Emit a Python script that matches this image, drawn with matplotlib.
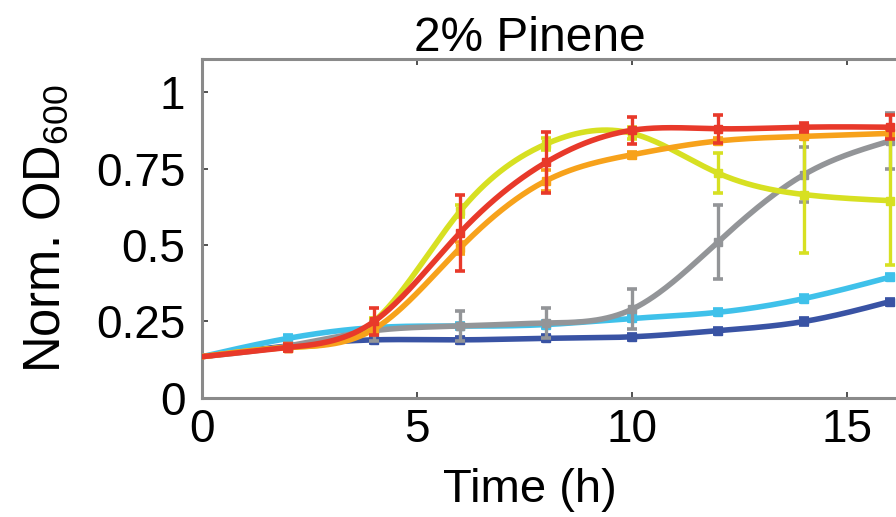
import numpy as np
import matplotlib
matplotlib.use("Agg")
import matplotlib.pyplot as plt

plt.rcParams['font.family'] = ['Liberation Sans', 'DejaVu Sans']
plt.rcParams['mathtext.fontset'] = 'custom'
plt.rcParams['mathtext.rm'] = 'Liberation Sans'

# Sampling times (h)
time_h = [0, 2, 4, 6, 8, 10, 12, 14, 16]

# Normalised OD600 per strain, with error half-widths
od_blue   = [0.135, 0.17, 0.19, 0.19, 0.195, 0.20, 0.22, 0.25, 0.315]
err_blue  = [0.0, 0.01, 0.01, 0.01, 0.01, 0.01, 0.01, 0.01, 0.01]
od_cyan   = [0.135, 0.195, 0.23, 0.235, 0.24, 0.26, 0.28, 0.325, 0.395]
err_cyan  = [0.0, 0.01, 0.01, 0.01, 0.01, 0.01, 0.01, 0.01, 0.01]
od_gray   = [0.135, 0.17, 0.22, 0.235, 0.245, 0.29, 0.51, 0.73, 0.84]
err_gray  = [0.0, 0.01, 0.035, 0.05, 0.05, 0.065, 0.12, 0.09, 0.09]
od_yellow = [0.135, 0.165, 0.25, 0.61, 0.83, 0.865, 0.735, 0.665, 0.645]
err_yellow = [0.0, 0.01, 0.01, 0.02, 0.02, 0.02, 0.065, 0.19, 0.21]
od_orange = [0.135, 0.165, 0.225, 0.49, 0.71, 0.795, 0.84, 0.855, 0.865]
err_orange = [0.0, 0.01, 0.01, 0.02, 0.035, 0.01, 0.01, 0.01, 0.01]
od_red    = [0.135, 0.165, 0.25, 0.54, 0.77, 0.875, 0.88, 0.885, 0.885]
err_red   = [0.0, 0.01, 0.045, 0.125, 0.10, 0.045, 0.045, 0.015, 0.04]

series = [
    (od_blue, err_blue, '#3953a4'),
    (od_cyan, err_cyan, '#3fc1ea'),
    (od_gray, err_gray, '#939598'),
    (od_yellow, err_yellow, '#d7e022'),
    (od_orange, err_orange, '#f7a21b'),
    (od_red, err_red, '#e8392a'),
]

x_ticks = [0, 5, 10, 15]
y_ticks = [0, 0.25, 0.5, 0.75, 1]
y_tick_labels = ['0', '0.25', '0.5', '0.75', '1']


def natural_spline(x, y, xs):
    x = np.asarray(x, float)
    y = np.asarray(y, float)
    n = len(x)
    h = np.diff(x)
    A = np.zeros((n, n))
    b = np.zeros(n)
    A[0, 0] = 1
    A[-1, -1] = 1
    for i in range(1, n - 1):
        A[i, i - 1] = h[i - 1]
        A[i, i] = 2 * (h[i - 1] + h[i])
        A[i, i + 1] = h[i]
        b[i] = 3 * ((y[i + 1] - y[i]) / h[i] - (y[i] - y[i - 1]) / h[i - 1])
    c = np.linalg.solve(A, b)
    bc = (y[1:] - y[:-1]) / h - h * (2 * c[:-1] + c[1:]) / 3
    d = (c[1:] - c[:-1]) / (3 * h)
    idx = np.clip(np.searchsorted(x, xs) - 1, 0, n - 2)
    dx = xs - x[idx]
    return y[idx] + bc[idx] * dx + c[idx] * dx ** 2 + d[idx] * dx ** 3


fig = plt.figure(figsize=(8.96, 5.17), dpi=100)
ax = fig.add_axes([0.2254, 0.2302, 0.7746, 0.6557])

t = np.asarray(time_h, float)
ts = np.linspace(t[0], t[-1], 400)
for k, (vals, errs, col) in enumerate(series):
    z = 2 + k
    ax.plot(ts, natural_spline(t, vals, ts), color=col, lw=4.0,
            solid_capstyle='round', zorder=z)
    ax.errorbar(t[1:], vals[1:], yerr=errs[1:], fmt='s', color=col,
                ms=5.5, elinewidth=2.4, capsize=3.8, capthick=2.6,
                zorder=z)

ax.set_xlim(0, 16.14)
ax.set_ylim(0, 1.108)
ax.set_xticks(x_ticks)
ax.set_yticks(y_ticks)
ax.set_yticklabels(y_tick_labels)

for side in ('left', 'bottom', 'top'):
    ax.spines[side].set_color('#8a8a8a')
    ax.spines[side].set_linewidth(2.2)
ax.spines['right'].set_visible(False)

ax.tick_params(axis='both', direction='in', length=4, width=1.2,
               color='#333333', labelsize=33, top=True)
ax.tick_params(axis='x', pad=7)
ax.tick_params(axis='y', pad=12)

label_x = 0.4726
ax.set_title('2% Pinene', fontsize=34.5, pad=6)
ax.title.set_x(label_x)
ax.set_xlabel('Time (h)', fontsize=34, labelpad=12)
ax.xaxis.label.set_x(label_x)
ax.set_ylabel(r'Norm. OD$_\mathregular{600}$', fontsize=36.5, labelpad=18)

fig.savefig('out.png', dpi=100)
